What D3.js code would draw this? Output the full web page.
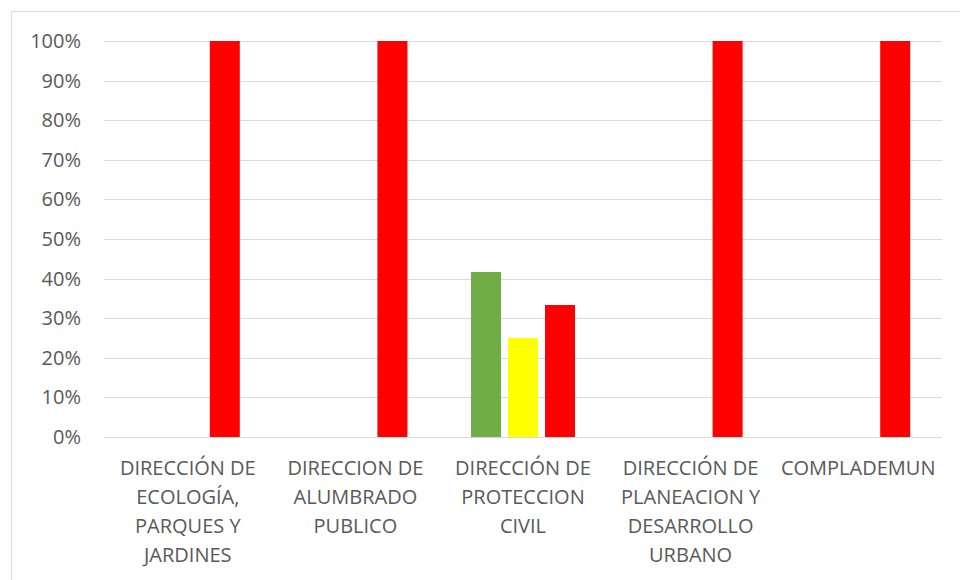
<!DOCTYPE html>
<html><head><meta charset="utf-8">
<script src="https://cdn.jsdelivr.net/npm/d3@7/dist/d3.min.js"></script>
<style>body{margin:0;background:#fff}svg{display:block}</style>
</head><body>
<svg id="c" width="960" height="580"></svg>
<script>
const categories = ["DIRECCIÓN DE ECOLOGÍA, PARQUES Y JARDINES","DIRECCION DE ALUMBRADO PUBLICO","DIRECCIÓN DE PROTECCION CIVIL","DIRECCIÓN DE PLANEACION Y DESARROLLO URBANO","COMPLADEMUN"];
const categoryLines = [["DIRECCIÓN DE","ECOLOGÍA,","PARQUES Y","JARDINES"],["DIRECCION DE","ALUMBRADO","PUBLICO"],["DIRECCIÓN DE","PROTECCION","CIVIL"],["DIRECCIÓN DE","PLANEACION Y","DESARROLLO","URBANO"],["COMPLADEMUN"]];
const seriesNames = ["Verde","Amarillo","Rojo"];
const seriesColors = ["#70AD47","#FFFF00","#FF0000"];
const green = [0,0,0.4167,0,0];
const yellow = [0,0,0.25,0,0];
const red = [1,1,0.3333,1,1];
const yTicks = [0,0.1,0.2,0.3,0.4,0.5,0.6,0.7,0.8,0.9,1];

(function(){
const seriesValues = [green, yellow, red];
const svg = d3.select("#c");
const font = "'Open Sans', sans-serif";

svg.append("rect").attr("x",11.5).attr("y",11.5).attr("width",960).attr("height",600)
  .attr("fill","#fff").attr("stroke","#D9D9D9").attr("stroke-width",1);

const pL=104, pR=942, pT=41, pB=437;
const y = d3.scaleLinear().domain([0,1]).range([pB,pT]);
const x0 = d3.scaleBand().domain(categories).range([pL,pR]).padding(0);
const bw = x0.bandwidth();
const groupW = 104;
const x1 = d3.scaleBand().domain(seriesNames).range([(bw-groupW)/2,(bw+groupW)/2]).paddingInner(7/37).paddingOuter(0);

svg.append("g").selectAll("line").data(yTicks).join("line")
  .attr("x1",pL).attr("x2",pR)
  .attr("y1",d=>Math.round(y(d))+0.5).attr("y2",d=>Math.round(y(d))+0.5)
  .attr("stroke","#D9D9D9").attr("stroke-width",1);

const yAxis = d3.axisLeft(y).tickValues(yTicks).tickFormat(d3.format(".0%")).tickSize(0).tickPadding(0);
const ya = svg.append("g").attr("transform","translate(81,0)").call(yAxis);
ya.select(".domain").remove();
ya.selectAll("text").attr("font-family",font).attr("font-size","20px").attr("fill","#595959");

const data = [];
categories.forEach((c,i)=>seriesNames.forEach((s,j)=>{ if(seriesValues[j][i]>0) data.push({c,s,v:seriesValues[j][i],col:seriesColors[j]}); }));
svg.append("g").selectAll("rect").data(data).join("rect")
  .attr("x",d=>x0(d.c)+x1(d.s)).attr("width",x1.bandwidth())
  .attr("y",d=>y(d.v)).attr("height",d=>y(0)-y(d.v))
  .attr("fill",d=>d.col);

const xl = svg.append("g");
categories.forEach((c,i)=>{
  const t = xl.append("text").attr("x",x0(c)+bw/2).attr("y",475)
    .attr("text-anchor","middle").attr("font-family",font).attr("font-size","20px").attr("fill","#595959");
  categoryLines[i].forEach((ln,k)=>t.append("tspan").attr("x",x0(c)+bw/2).attr("dy",k?29:0).text(ln));
});
})();
</script>
</body></html>
